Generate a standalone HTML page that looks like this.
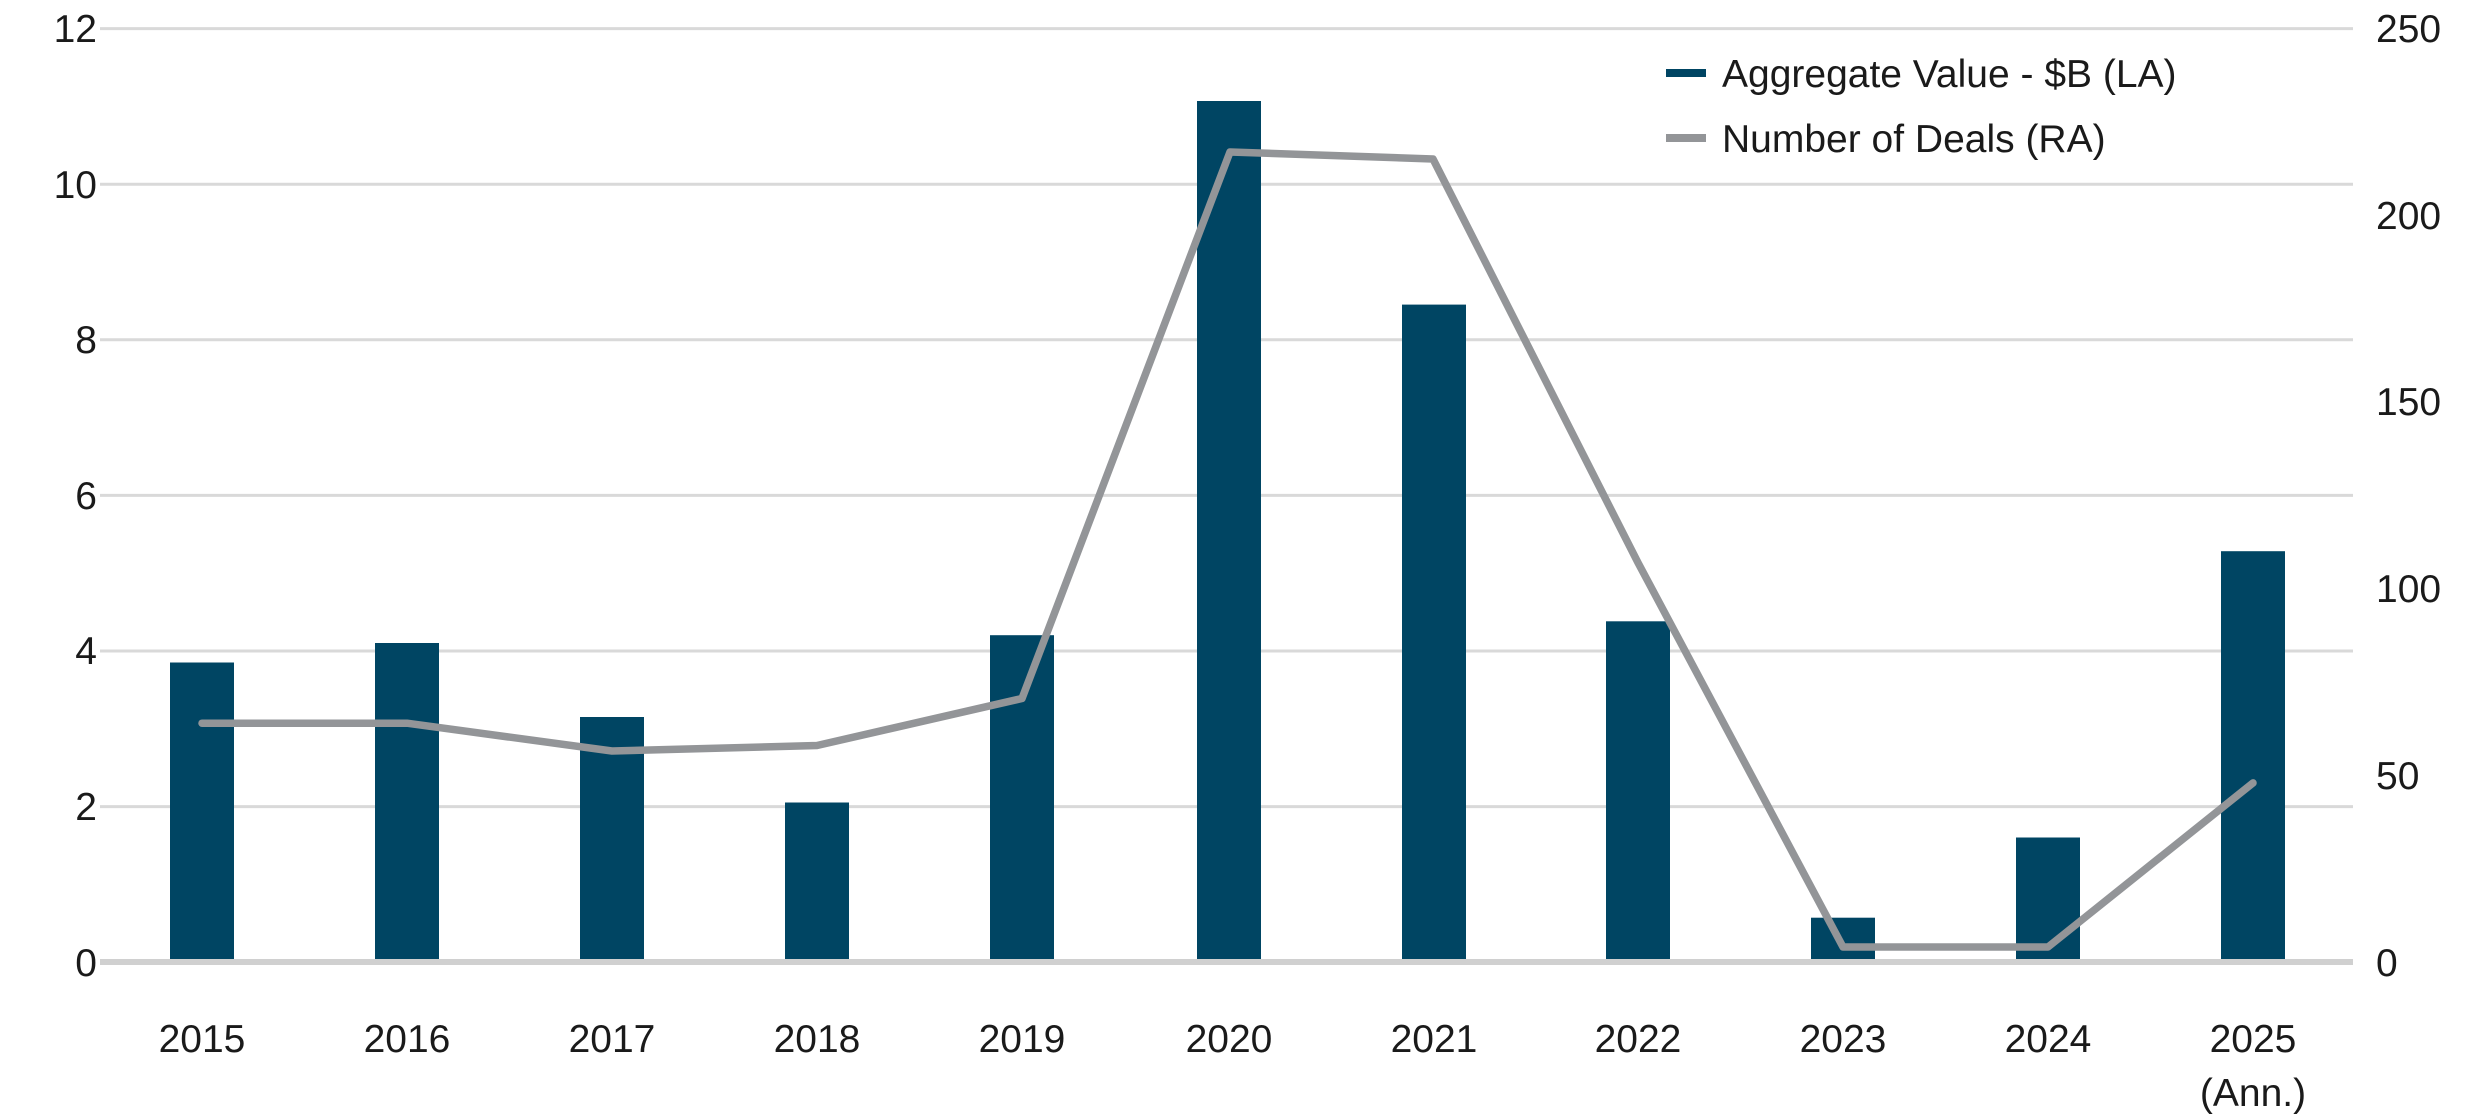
<!DOCTYPE html>
<html><head><meta charset="utf-8"><style>
html,body{margin:0;padding:0;background:#fff;}
svg{display:block;}
text{font-family:"Liberation Sans",sans-serif;fill:#1a1a1a;}
</style></head><body>
<svg width="2488" height="1114" viewBox="0 0 2488 1114" xmlns="http://www.w3.org/2000/svg">
<g stroke="#d9d9d9" stroke-width="3">
<line x1="100" x2="2353" y1="28.6" y2="28.6"/>
<line x1="100" x2="2353" y1="184.2" y2="184.2"/>
<line x1="100" x2="2353" y1="339.8" y2="339.8"/>
<line x1="100" x2="2353" y1="495.4" y2="495.4"/>
<line x1="100" x2="2353" y1="651" y2="651"/>
<line x1="100" x2="2353" y1="806.6" y2="806.6"/>
</g>
<g fill="#004563">
<rect x="170" y="662.5" width="64" height="299.5"/>
<rect x="375" y="643" width="64" height="319"/>
<rect x="580" y="717" width="64" height="245"/>
<rect x="785" y="802.5" width="64" height="159.5"/>
<rect x="990" y="635.2" width="64" height="326.8"/>
<rect x="1197" y="101" width="64" height="861"/>
<rect x="1402" y="304.6" width="64" height="657.4"/>
<rect x="1606" y="621.3" width="64" height="340.7"/>
<rect x="1811" y="917.7" width="64" height="44.3"/>
<rect x="2016" y="837.5" width="64" height="124.5"/>
<rect x="2221" y="551.2" width="64" height="410.8"/>
</g>
<line x1="100" x2="2353" y1="962" y2="962" stroke="#d0d0d0" stroke-width="6"/>
<polyline fill="none" stroke="#939598" stroke-width="7.5" stroke-linejoin="round" stroke-linecap="round"
points="202,723.2 407,723.2 612,751 817,745.5 1022,698.5 1230,152 1433,159 1638,562.7 1843,947 2048,947 2253,782.9"/>
<g font-size="39" text-anchor="end">
<text x="97" y="42">12</text>
<text x="97" y="198">10</text>
<text x="97" y="353">8</text>
<text x="97" y="509">6</text>
<text x="97" y="664">4</text>
<text x="97" y="820">2</text>
<text x="97" y="976">0</text>
</g>
<g font-size="39" text-anchor="start">
<text x="2376" y="42">250</text>
<text x="2376" y="229">200</text>
<text x="2376" y="415">150</text>
<text x="2376" y="602">100</text>
<text x="2376" y="789">50</text>
<text x="2376" y="976">0</text>
</g>
<g font-size="39" text-anchor="middle">
<text x="202" y="1052">2015</text>
<text x="407" y="1052">2016</text>
<text x="612" y="1052">2017</text>
<text x="817" y="1052">2018</text>
<text x="1022" y="1052">2019</text>
<text x="1229" y="1052">2020</text>
<text x="1434" y="1052">2021</text>
<text x="1638" y="1052">2022</text>
<text x="1843" y="1052">2023</text>
<text x="2048" y="1052">2024</text>
<text x="2253" y="1052">2025</text>
<text x="2253" y="1106">(Ann.)</text>
</g>
<rect x="1666" y="69" width="40" height="8" fill="#004563"/>
<rect x="1666" y="134" width="40" height="8" fill="#939598"/>
<g font-size="39">
<text x="1722" y="87">Aggregate Value - $B (LA)</text>
<text x="1722" y="152">Number of Deals (RA)</text>
</g>
</svg>
</body></html>
